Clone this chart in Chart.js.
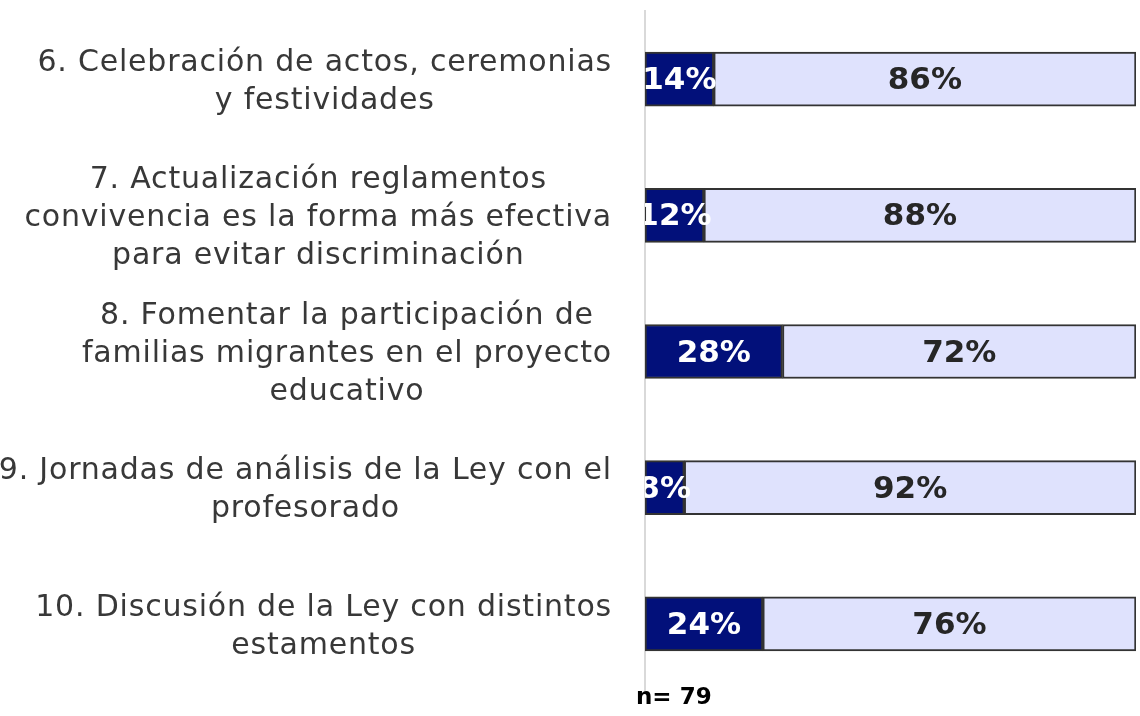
<!DOCTYPE html>
<html>
<head>
<meta charset="utf-8">
<script src="https://cdn.jsdelivr.net/npm/chart.js@4/dist/chart.umd.min.js"></script>
<style>
  html, body { margin: 0; padding: 0; background: #fff; }
  #wrap { width: 1140px; height: 716px; }
</style>
</head>
<body>
<div id="wrap"><canvas id="barChart" width="1140" height="716"></canvas></div>
<script>
// categorias (en lineas, como aparecen en el grafico)
const categorias = [
    ['6. Celebración de actos, ceremonias', 'y festividades'],
    ['7. Actualización reglamentos', 'convivencia es la forma más efectiva', 'para evitar discriminación'],
    ['8. Fomentar la participación de', 'familias migrantes en el proyecto', 'educativo'],
    ['9. Jornadas de análisis de la Ley con el', 'profesorado'],
    ['10. Discusión de la Ley con distintos', 'estamentos']
];
const serieNo = [14, 12, 28, 8, 24];
const serieSi = [86, 88, 72, 92, 76];
const muestra = 'n= 79';

const fuente = '"DejaVu Sans", sans-serif';

const etiquetasPlugin = {
    id: 'etiquetas',
    afterDatasetsDraw(chart) {
        const ctx = chart.ctx;
        const area = chart.chartArea;
        ctx.save();
        ctx.beginPath();
        ctx.rect(area.left, area.top, area.right - area.left, area.bottom - area.top);
        ctx.clip();
        ctx.font = 'bold 31px ' + fuente;
        ctx.textAlign = 'center';
        ctx.textBaseline = 'middle';
        chart.data.datasets.forEach((ds, i) => {
            const meta = chart.getDatasetMeta(i);
            meta.data.forEach((bar, j) => {
                ctx.fillStyle = i === 0 ? '#ffffff' : '#262626';
                ctx.fillText(ds.data[j] + '%', (bar.x + bar.base) / 2, bar.y + 2);
            });
        });
        ctx.restore();
    },
    afterDraw(chart) {
        const ctx = chart.ctx;
        const yScale = chart.scales.y;
        const area = chart.chartArea;
        ctx.save();
        ctx.font = '30px ' + fuente;
        ctx.letterSpacing = '0.8px';
        ctx.fillStyle = '#383838';
        ctx.textAlign = 'center';
        ctx.textBaseline = 'middle';
        const alto = 38;
        const derecha = 612;
        categorias.forEach((lineas, i) => {
            const yc = yScale.getPixelForValue(i) + 3;
            const maxW = Math.max(...lineas.map(l => ctx.measureText(l).width));
            const xc = derecha - maxW / 2;
            lineas.forEach((l, k) => {
                ctx.fillText(l, xc, yc + (k - (lineas.length - 1) / 2) * alto);
            });
        });
        // tamaño de muestra
        ctx.letterSpacing = '0px';
        ctx.font = 'bold 23px ' + fuente;
        ctx.fillStyle = '#000000';
        ctx.textAlign = 'left';
        ctx.fillText(muestra, area.left - 9, 698);
        ctx.restore();
    }
};

new Chart(document.getElementById('barChart').getContext('2d'), {
    type: 'bar',
    data: {
        labels: categorias,
        datasets: [
            { label: 'No', data: serieNo, backgroundColor: '#02107a', borderColor: '#333333', borderWidth: 2, borderSkipped: false, barThickness: 54 },
            { label: 'Sí', data: serieSi, backgroundColor: '#dfe2fd', borderColor: '#333333', borderWidth: 2, borderSkipped: false, barThickness: 54 }
        ]
    },
    options: {
        indexAxis: 'y',
        responsive: false,
        animation: false,
        layout: { padding: { left: 637, right: 4, top: 11, bottom: 24 } },
        plugins: { legend: { display: false }, tooltip: { enabled: false } },
        scales: {
            x: { stacked: true, min: 0, max: 100, display: false },
            y: {
                stacked: true,
                grid: { display: false },
                ticks: { display: false },
                border: { display: true, color: '#d9d9d9', width: 2 }
            }
        }
    },
    plugins: [etiquetasPlugin]
});
</script>
</body>
</html>
